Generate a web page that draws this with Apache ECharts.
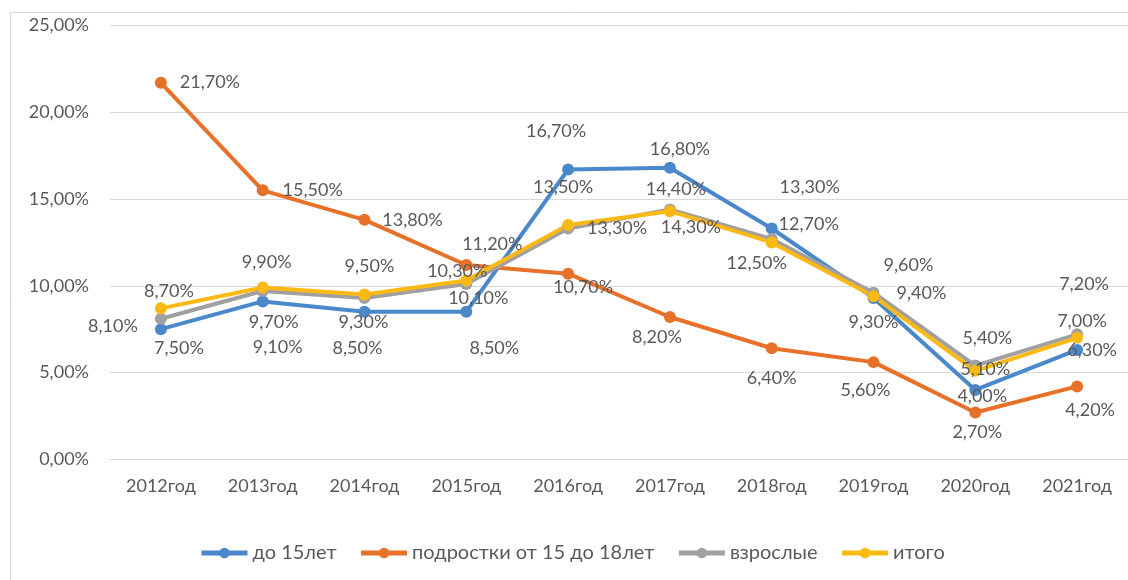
<!DOCTYPE html>
<html>
<head>
<meta charset="utf-8">
<script src="https://cdn.jsdelivr.net/npm/echarts@6/dist/echarts.min.js"></script>
<style>
html,body{margin:0;padding:0;background:#fff;}
#chart{width:1128px;height:580px;}
</style>
</head>
<body>
<div id="chart"></div>
<script>
// ---- data ----
const categories = ['2012год','2013год','2014год','2015год','2016год','2017год','2018год','2019год','2020год','2021год'];
const seriesNames = ['до 15лет','подростки от 15 до 18лет','взрослые','итого'];
const under15   = [7.5, 9.1, 8.5, 8.5, 16.7, 16.8, 13.3, 9.3, 4.0, 6.3];
const teens     = [21.7, 15.5, 13.8, 11.2, 10.7, 8.2, 6.4, 5.6, 2.7, 4.2];
const adults    = [8.1, 9.7, 9.3, 10.1, 13.3, 14.4, 12.7, 9.6, 5.4, 7.2];
const total     = [8.7, 9.9, 9.5, 10.3, 13.5, 14.3, 12.5, 9.4, 5.1, 7.0];
const yTicks = [0, 5, 10, 15, 20, 25];

// ---- label placement (pixel offsets of each data label from its point) ----
const offUnder15 = [[18,19],[15,46],[-7,36],[28,36],[-12,-38],[10,-19],[38,-41],[0,24],[7,6],[15,0]];
const offTeens   = [[49,-1],[50,0],[48,0],[26,-21],[15,14],[-13,20],[0,30],[-8,28],[2,20],[13,24]];
const offAdults  = [[-48,7],[11,31],[-1,24],[12,14],[49,0],[6,-20],[37,-15],[35,-28],[12,-27],[7,-50]];
const offTotal   = [[8,-17],[4,-25],[5,-28],[-9,-9],[-5,-38],[21,16],[-15,21],[48,-3],[10,-2],[5,-17]];

const colors = ['#4A88CC','#E8712A','#A0A0A0','#FDB913'];
const FONT = 'Lato';
const TXT = '#595959';

function fmt(v){ return v.toFixed(2).replace('.', ',') + '%'; }

function mkSeries(name, values, offs, color){
  return {
    name: name,
    type: 'line',
    data: values.map((v,i)=>({value:v, label:{offset:offs[i]}})),
    symbol: 'circle',
    symbolSize: 12,
    lineStyle: {width: 4, color: color},
    itemStyle: {color: color},
    label: {
      show: true,
      position: 'inside',
      formatter: p => fmt(p.value),
      color: TXT,
      fontSize: 18,
      fontFamily: FONT
    },
    emphasis: {disabled: true},
    animation: false
  };
}

const chart = echarts.init(document.getElementById('chart'), null, {renderer:'canvas'});
chart.setOption({
  backgroundColor: '#ffffff',
  animation: false,
  color: colors,
  graphic: [{
    type: 'rect',
    shape: {x: 10.5, y: 12.5, width: 1200, height: 700},
    style: {fill: 'none', stroke: '#D9D9D9', lineWidth: 1},
    silent: true,
    z: -10
  }],
  grid: {left: 110, right: -8, top: 25.5, bottom: 120.7},
  legend: {
    data: seriesNames,
    left: 194,
    top: 538,
    itemWidth: 46,
    itemHeight: 13,
    itemGap: 22,
    lineStyle: {width: 5},
    textStyle: {color: TXT, fontSize: 20, fontFamily: FONT}
  },
  xAxis: {
    type: 'category',
    data: categories,
    boundaryGap: true,
    axisLine: {show: true, lineStyle: {color: '#D9D9D9', width: 1}},
    axisTick: {show: false},
    axisLabel: {color: TXT, fontSize: 18, fontFamily: FONT, margin: 18, interval: 0}
  },
  yAxis: {
    type: 'value',
    min: yTicks[0],
    max: yTicks[yTicks.length-1],
    interval: yTicks[1]-yTicks[0],
    axisLine: {show: false},
    axisTick: {show: false},
    splitLine: {lineStyle: {color: '#D9D9D9', width: 1}},
    axisLabel: {color: TXT, fontSize: 18, fontFamily: FONT, margin: 21, formatter: v => fmt(v)}
  },
  series: [
    mkSeries(seriesNames[0], under15, offUnder15, colors[0]),
    mkSeries(seriesNames[1], teens, offTeens, colors[1]),
    mkSeries(seriesNames[2], adults, offAdults, colors[2]),
    mkSeries(seriesNames[3], total, offTotal, colors[3])
  ]
});
</script>
</body>
</html>
